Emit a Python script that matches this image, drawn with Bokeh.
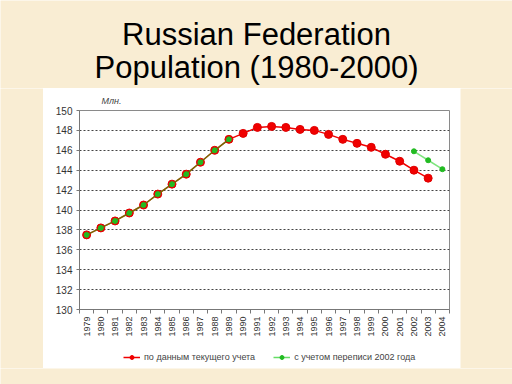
import math
from bokeh.plotting import figure
from bokeh.layouts import column, row
from bokeh.models import FixedTicker, Legend, LegendItem, Title, Range1d
from bokeh.core.properties import value
from bokeh.embed import file_html
from bokeh.resources import INLINE

# ---- data ----
years = [1979, 1980, 1981, 1982, 1983, 1984, 1985, 1986, 1987, 1988, 1989,
         1990, 1991, 1992, 1993, 1994, 1995, 1996, 1997, 1998, 1999, 2000,
         2001, 2002, 2003, 2004]
current_count = [137.5, 138.2, 138.9, 139.7, 140.5, 141.6, 142.6, 143.6, 144.8,
                 146.0, 147.1, 147.7, 148.3, 148.4, 148.3, 148.1, 148.0, 147.6,
                 147.1, 146.7, 146.3, 145.6, 144.9, 144.0, 143.2, None]
census_2002 = [137.5, 138.2, 138.9, 139.7, 140.5, 141.6, 142.6, 143.6, 144.8,
               146.0, 147.1, None, None, None, None, None, None, None, None,
               None, None, None, None, 145.9, 145.0, 144.1]
y_ticks = [130, 132, 134, 136, 138, 140, 142, 144, 146, 148, 150]
title_lines = ["Russian Federation", "Population (1980-2000)"]
unit_label = "Млн."
series_names = ["по данным текущего учета", "с учетом переписи 2002 года"]

BEIGE = "#F9EDD3"
FONT = "Liberation Sans"


def nan(v):
    return float("nan") if v is None else v


cur = [nan(v) for v in current_count]
cen = [nan(v) for v in census_2002]


def blank(w, h, color):
    s = figure(width=w, height=h, output_backend="svg", toolbar_location=None,
               min_border=0, x_axis_type=None, y_axis_type=None, title=None,
               x_range=Range1d(0, w), y_range=Range1d(0, h))
    s.background_fill_color = color
    s.border_fill_color = color
    s.outline_line_color = None
    s.grid.visible = False
    return s


# ---- title figure ----
tfig = blank(512, 88, BEIGE)
tfig.text(x=[256, 256], y=[54, 21], text=title_lines,
          text_font=value(FONT), text_font_size="31px", text_color="#000000",
          text_align="center", text_baseline="alphabetic")

# ---- chart figure ----
p = figure(width=417, height=260, output_backend="svg", toolbar_location=None,
           x_range=Range1d(1978.5, 2004.5), y_range=Range1d(130, 150),
           min_border_left=36, min_border_right=11, min_border_top=22,
           min_border_bottom=39)
p.background_fill_color = "white"
p.border_fill_color = "white"
p.outline_line_color = "#8a8a8a"

p.title = Title(text=unit_label, align="left", offset=22,
                text_font=FONT, text_font_size="9px", text_font_style="italic",
                text_color="#444444")

r_line = p.line(years, cur, line_color="#F00000", line_width=1.5)
r_pts = p.scatter(years, cur, size=8, fill_color="#F00000", line_color="#E00000")
g_line = p.line(years, cen, line_color="#00CC00", line_width=1.5, line_alpha=0.5)
g_pts = p.scatter(years, cen, size=5, fill_color="#22BB22", line_color="#22BB22")

# axes
p.xaxis.ticker = FixedTicker(ticks=years, minor_ticks=[y - 0.5 for y in years] + [years[-1] + 0.5])
p.xaxis.major_label_orientation = math.pi / 2
p.xaxis.major_tick_out = 0
p.xaxis.major_tick_in = 0
p.xaxis.minor_tick_out = 4
p.xaxis.minor_tick_in = 0
p.xaxis.major_label_standoff = 3
p.xaxis.major_label_text_font = FONT
p.xaxis.major_label_text_font_size = "9px"
p.xaxis.major_label_text_color = "#333333"
p.xaxis.axis_line_color = "#777777"
p.xaxis.minor_tick_line_color = "#777777"

p.yaxis.ticker = FixedTicker(ticks=y_ticks)
p.yaxis.major_tick_out = 3
p.yaxis.major_tick_in = 0
p.yaxis.minor_tick_line_color = None
p.yaxis.major_label_standoff = 4
p.yaxis.major_label_text_font = FONT
p.yaxis.major_label_text_font_size = "10px"
p.yaxis.major_label_text_color = "#333333"
p.yaxis.axis_line_color = "#777777"
p.yaxis.major_tick_line_color = "#777777"

p.xgrid.visible = False
p.ygrid.ticker = FixedTicker(ticks=y_ticks[1:-1])
p.ygrid.grid_line_color = "#444444"
p.ygrid.grid_line_dash = "2 2"
p.ygrid.grid_line_width = 1

# ---- legend strip (sample renderers sit outside the visible range) ----
lfig = blank(417, 20, "white")
lr_line = lfig.line([-50, -40], [-50, -50], line_color="#F00000", line_width=1.5)
lr_pts = lfig.scatter([-45], [-50], size=4, fill_color="#F00000", line_color="#F00000")
lg_line = lfig.line([-50, -40], [-50, -50], line_color="#66DD66", line_width=1.5)
lg_pts = lfig.scatter([-45], [-50], size=4, fill_color="#22BB22", line_color="#22BB22")
legend = Legend(items=[LegendItem(label=series_names[0], renderers=[lr_line, lr_pts]),
                       LegendItem(label=series_names[1], renderers=[lg_line, lg_pts])],
                orientation="horizontal", location=(44, 6),
                label_text_font=FONT, label_text_font_size="9px",
                label_text_color="#444444", glyph_width=17, glyph_height=10,
                label_height=10, label_standoff=4, spacing=18, padding=3, margin=0,
                border_line_color=None, background_fill_alpha=0)
lfig.add_layout(legend, "center")

layout = column(tfig,
                row(blank(43, 280, BEIGE), column(p, lfig), blank(52, 280, BEIGE)),
                blank(512, 16, BEIGE))

open("out.html", "w").write(file_html(layout, INLINE))
